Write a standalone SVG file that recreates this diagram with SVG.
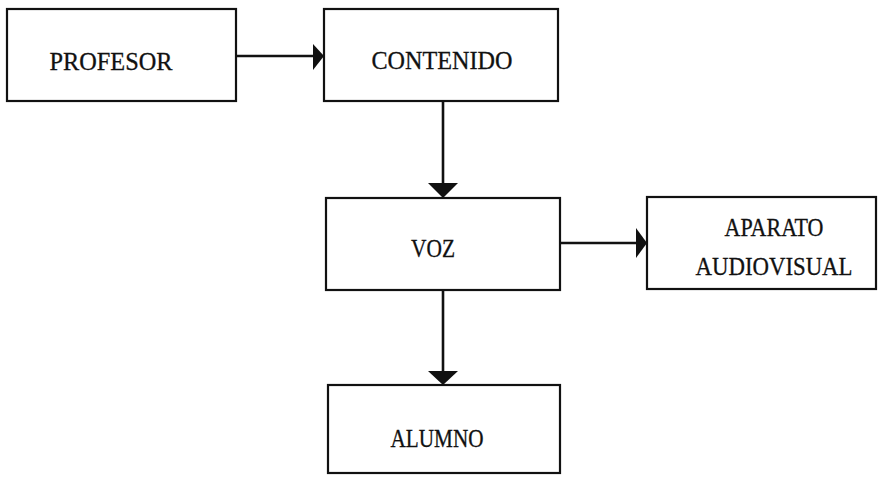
<svg xmlns="http://www.w3.org/2000/svg" width="879" height="482" viewBox="0 0 879 482">
<style>
.box{fill:#fff;stroke:#111;stroke-width:2.2}
.lbl{font-family:"Liberation Serif","Times New Roman",serif;font-size:25px;fill:#111;stroke:#111;stroke-width:0.3;text-anchor:middle}
.ln{stroke:#111;stroke-width:2.6;fill:none}
.ah{fill:#111}
</style>
<rect width="879" height="482" fill="#fff"/>
<g id="connectors">
<line class="ln" x1="237" y1="56" x2="314" y2="56"/>
<polygon class="ah" points="313,44 324,56 313,70"/>
<line class="ln" x1="443" y1="101" x2="443" y2="184"/>
<polygon class="ah" points="428,183 458,183 443,198"/>
<line class="ln" x1="560" y1="243" x2="638" y2="243"/>
<polygon class="ah" points="636,228 647,243 636,258"/>
<line class="ln" x1="443" y1="290" x2="443" y2="372"/>
<polygon class="ah" points="428,371 458,371 443,385"/>
</g>
<g id="profesor">
<rect class="box" x="7" y="9" width="229" height="92"/>
<text class="lbl" x="111" y="70" textLength="123" lengthAdjust="spacingAndGlyphs">PROFESOR</text>
</g>
<g id="contenido">
<rect class="box" x="324" y="9" width="234" height="92"/>
<text class="lbl" x="442" y="69" textLength="141" lengthAdjust="spacingAndGlyphs">CONTENIDO</text>
</g>
<g id="voz">
<rect class="box" x="326" y="198" width="234" height="92"/>
<text class="lbl" x="433" y="257" textLength="44" lengthAdjust="spacingAndGlyphs">VOZ</text>
</g>
<g id="aparato">
<rect class="box" x="647" y="197" width="229" height="92"/>
<text class="lbl" x="774" y="236" textLength="99" lengthAdjust="spacingAndGlyphs">APARATO</text>
<text class="lbl" x="774" y="275" textLength="157" lengthAdjust="spacingAndGlyphs">AUDIOVISUAL</text>
</g>
<g id="alumno">
<rect class="box" x="328" y="385" width="232" height="88"/>
<text class="lbl" x="437" y="447" textLength="93" lengthAdjust="spacingAndGlyphs">ALUMNO</text>
</g>
</svg>
